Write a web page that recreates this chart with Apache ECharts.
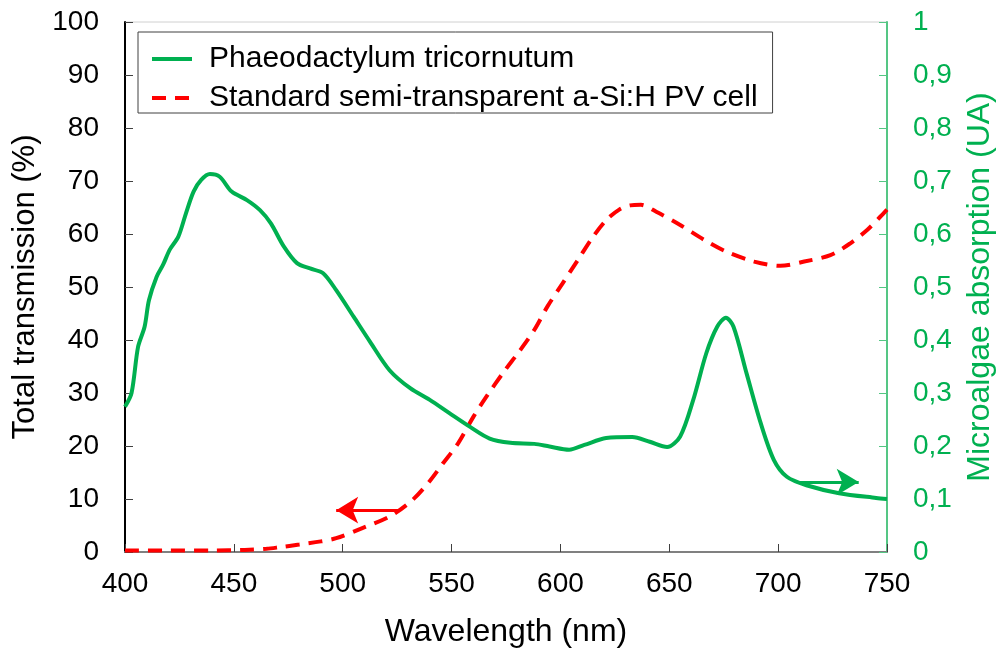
<!DOCTYPE html>
<html>
<head>
    <meta charset="utf-8">
    <title>Transmission vs absorption</title>
    <script src="https://cdn.jsdelivr.net/npm/echarts@6/dist/echarts.min.js"></script>
</head>
<body style="margin:0">
    <div id="main" style="width: 1000px;height:652px;"></div>
    <script>
        // absorption of Phaeodactylum tricornutum (UA, right axis)
        var algaeWl = [400, 403, 406, 409, 411, 414.5, 417.5, 420.5, 424.5, 428, 431.5, 435, 439, 443.5, 449, 456, 462, 467, 473, 479, 485, 491, 497, 505, 512.5, 521.5, 531, 540, 549, 558.5, 567.5, 577, 588, 595, 604, 611, 621, 633, 641, 649, 655, 661, 667, 672, 676, 679.5, 685.5, 692, 698, 704, 713, 728, 745, 750];
        var algaeAbs = [0.274, 0.30, 0.387, 0.425, 0.475, 0.519, 0.542, 0.57, 0.595, 0.639, 0.68, 0.702, 0.713, 0.708, 0.68, 0.664, 0.645, 0.62, 0.576, 0.545, 0.535, 0.526, 0.494, 0.444, 0.397, 0.343, 0.309, 0.287, 0.262, 0.236, 0.214, 0.206, 0.204, 0.199, 0.193, 0.202, 0.215, 0.217, 0.208, 0.198, 0.218, 0.287, 0.375, 0.425, 0.442, 0.425, 0.337, 0.243, 0.174, 0.142, 0.126, 0.111, 0.102, 0.100];

        // total transmission of the a-Si:H cell (%, left axis)
        var cellWl = [400, 420, 440, 455, 465, 471, 480, 490, 497, 509, 522, 532, 540, 546, 553, 560, 566, 574, 581, 588, 594, 601, 608, 615, 621, 627, 632, 637, 644, 655, 666, 676, 689, 701, 712, 724, 733, 741, 747, 750];
        var cellTrans = [0.3, 0.3, 0.3, 0.4, 0.6, 0.9, 1.4, 2.0, 2.6, 4.5, 6.8, 9.8, 13.4, 16.7, 20.5, 25.5, 29.3, 34, 37.8, 41.9, 46.3, 50.7, 55.1, 59.5, 62.6, 64.6, 65.4, 65.5, 64.2, 61.7, 58.9, 56.7, 54.8, 54.0, 54.8, 56.0, 58.2, 60.8, 63.3, 64.6];

        // arrows telling which axis each curve belongs to
        var redArrow = [[526, 7.9], [497, 7.9]];
        var greenArrow = [[710, 0.132], [737, 0.132]];

        var GREEN = '#00b050';
        var RED = '#ff0000';
        var FONT = 'Liberation Sans, Arial, sans-serif';

        function pairs(xs, ys) {
            return xs.map(function (x, i) { return [x, ys[i]]; });
        }

        var chartDom = document.getElementById('main');
        var myChart = echarts.init(chartDom);
        var option = {
            animation: false,
            textStyle: { fontFamily: FONT },
            grid: {
                left: 125, right: 113, top: 22, bottom: 100,
                outerBoundsMode: 'none',
                show: true, borderColor: '#d0d0d0', borderWidth: 1
            },
            legend: {
                orient: 'vertical',
                left: 138, top: 32,
                padding: [12, 15, 0, 12],
                itemGap: 9,
                itemWidth: 40, itemHeight: 14,
                itemStyle: { opacity: 0 },
                lineStyle: { width: 4 },
                borderColor: '#404040', borderWidth: 1,
                textStyle: { fontSize: 30, color: '#000', fontFamily: FONT, padding: [0, 0, 0, 12] },
                data: ['Phaeodactylum tricornutum', 'Standard semi-transparent a-Si:H PV cell']
            },
            xAxis: {
                type: 'value',
                min: 400, max: 750, interval: 50,
                name: 'Wavelength (nm)',
                nameLocation: 'middle',
                nameGap: 64,
                nameTextStyle: { fontSize: 32, color: '#000', fontFamily: FONT },
                axisLine: { lineStyle: { color: '#808080', width: 2 } },
                axisTick: { inside: true, length: 8, lineStyle: { color: '#404040' } },
                axisLabel: { fontSize: 28, color: '#000', margin: 18 },
                splitLine: { show: false }
            },
            yAxis: [{
                type: 'value',
                min: 0, max: 100, interval: 10,
                name: 'Total transmission (%)',
                nameLocation: 'middle',
                nameGap: 84,
                nameTextStyle: { fontSize: 31, color: '#000', fontFamily: FONT },
                axisLine: { show: true, lineStyle: { color: '#000', width: 2 } },
                axisTick: { show: true, inside: true, length: 8, lineStyle: { color: '#404040' } },
                axisLabel: { fontSize: 28, color: '#000', margin: 26 },
                splitLine: { show: false }
            }, {
                type: 'value',
                position: 'right',
                min: 0, max: 1, interval: 0.1,
                name: 'Microalgae absorption (UA)',
                nameLocation: 'middle',
                nameGap: 77,
                nameRotate: 90,
                nameTextStyle: { fontSize: 32, color: GREEN, fontFamily: FONT },
                axisLine: { show: true, lineStyle: { color: '#55c684', width: 2 } },
                axisTick: { show: true, inside: true, length: 8, lineStyle: { color: '#55c684' } },
                axisLabel: {
                    fontSize: 28, color: GREEN, margin: 26,
                    formatter: function (v) { return String(Number(v.toFixed(1))).replace('.', ','); }
                },
                splitLine: { show: false }
            }],
            series: [{
                name: 'Phaeodactylum tricornutum',
                type: 'line',
                yAxisIndex: 1,
                data: pairs(algaeWl, algaeAbs),
                smooth: 0.3,
                symbol: 'none',
                lineStyle: { color: GREEN, width: 4 },
                itemStyle: { color: GREEN },
                markLine: {
                    silent: true,
                    symbol: ['none', 'arrow'],
                    symbolSize: [20, 22],
                    label: { show: false },
                    lineStyle: { color: GREEN, width: 3, type: 'solid' },
                    data: [[{ coord: greenArrow[0] }, { coord: greenArrow[1] }]]
                },
                z: 3
            }, {
                name: 'Standard semi-transparent a-Si:H PV cell',
                type: 'line',
                yAxisIndex: 0,
                data: pairs(cellWl, cellTrans),
                smooth: 0.3,
                symbol: 'none',
                lineStyle: { color: RED, width: 4, type: [14, 9] },
                itemStyle: { color: RED },
                markLine: {
                    silent: true,
                    symbol: ['none', 'arrow'],
                    symbolSize: [20, 22],
                    label: { show: false },
                    lineStyle: { color: RED, width: 3, type: 'solid' },
                    data: [[{ coord: redArrow[0] }, { coord: redArrow[1] }]]
                },
                z: 2
            }]
        };

        myChart.setOption(option);
    </script>
</body>
</html>
